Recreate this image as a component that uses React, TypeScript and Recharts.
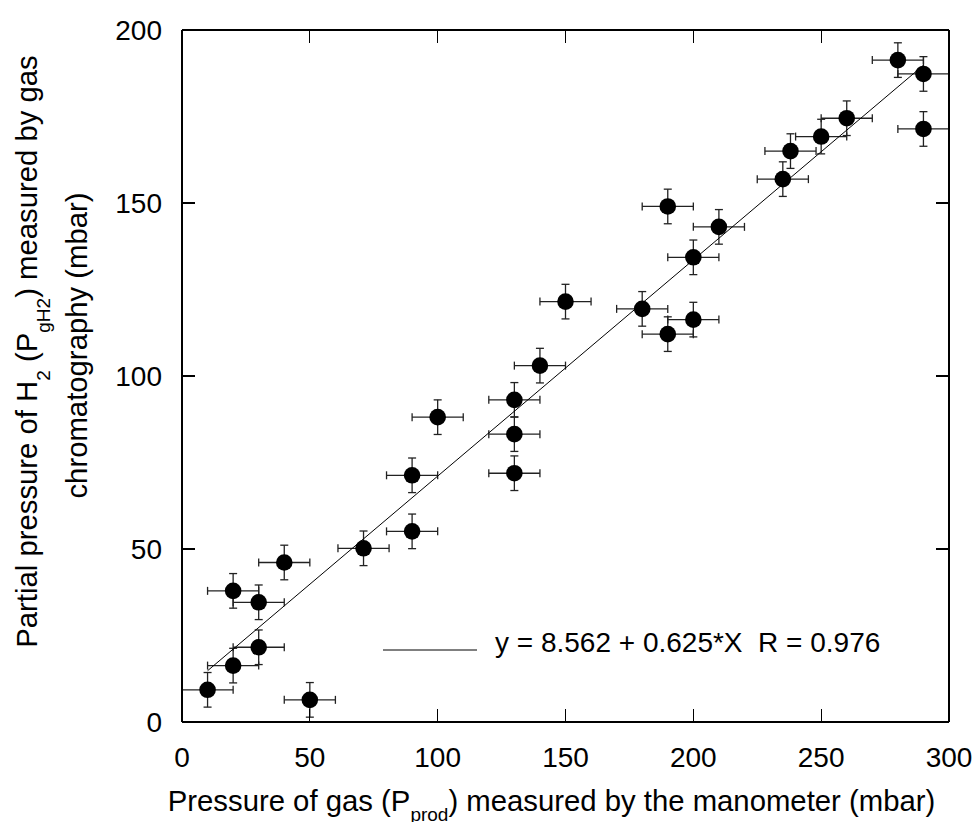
import React from 'react';
import { ScatterChart, Scatter, XAxis, YAxis, ErrorBar, Legend, ReferenceLine } from 'recharts';

// Pressure of gas measured by the manometer (mbar)
const pressureProd = [10, 20, 20, 30, 30, 40, 50, 71, 90, 90, 100, 130, 130, 130, 140, 150, 180, 190, 190, 200, 200, 210, 235, 238, 250, 260, 280, 290, 290];
// Partial pressure of H2 measured by gas chromatography (mbar)
const pressureH2 = [9.3, 16.3, 37.9, 34.6, 21.6, 46.1, 6.4, 50.2, 71.3, 55.1, 88.1, 93.1, 83.2, 71.9, 103, 121.5, 119.4, 149, 112.1, 134.3, 116.3, 143.1, 156.9, 165, 169.2, 174.5, 191.3, 187.3, 171.4];
const errProd = [10, 10, 10, 10, 10, 10, 10, 10, 10, 10, 10, 10, 10, 10, 10, 10, 10, 10, 10, 10, 10, 10, 10, 10, 10, 10, 10, 10, 10];
const errH2 = [5, 5, 5, 5, 5, 5, 5, 5, 5, 5, 5, 5, 5, 5, 5, 5, 5, 5, 5, 5, 5, 5, 5, 5, 5, 5, 5, 5, 5];

const xTicks = [0, 50, 100, 150, 200, 250, 300];
const yTicks = [0, 50, 100, 150, 200];
const xDomain = [0, 300];
const yDomain = [0, 200];

const fitIntercept = 8.562;
const fitSlope = 0.625;
const fitR = 0.976;
const fitRange = [10, 290];
const fitLabel = `y = ${fitIntercept} + ${fitSlope}*X  R = ${fitR}`;

const points = pressureProd.map((x, i) => ({ x, y: pressureH2[i], ex: errProd[i], ey: errH2[i] }));
const fitData = fitRange.map((x) => ({ x, y: fitIntercept + fitSlope * x }));

const FONT = '"Liberation Sans", Arial, Helvetica, sans-serif';
const tickStyle = { fontSize: 28, fill: '#000', fontFamily: FONT };
const TITLE = 29.3;
const SUB = 19;
const TICK_LEN = 13;
const PLOT_H = 692;
// inward tick length for the horizontal axes, expressed in y-axis units
const TICK_LEN_Y = (TICK_LEN * (yDomain[1] - yDomain[0])) / PLOT_H;

const Dot = (props: any) => <circle cx={props.cx} cy={props.cy} r={8.3} fill="#000" />;
const NoDot = () => <g />;
const NoTickLabel = () => <g />;

const XTitle = () => (
  <text x={543.5} y={803} textAnchor="middle" fontSize={TITLE} fontFamily={FONT} fill="#000">
    <tspan>Pressure of gas (P</tspan>
    <tspan fontSize={SUB} dy={10}>prod</tspan>
    <tspan dy={-10}>) measured by the manometer (mbar)</tspan>
  </text>
);

const YTitle = () => (
  <g fontFamily={FONT} fill="#000">
    <text transform="translate(28.7, 343.5) rotate(-90)" textAnchor="middle" fontSize={TITLE}>
      <tspan>Partial pressure of H</tspan>
      <tspan fontSize={SUB} dy={13}>2</tspan>
      <tspan dy={-13}>{' (P'}</tspan>
      <tspan fontSize={SUB} dy={13}>gH2</tspan>
      <tspan dy={-13}>) measured by gas</tspan>
    </text>
    <text transform="translate(79.3, 337.5) rotate(-90)" textAnchor="middle" fontSize={TITLE}>
      chromatography (mbar)
    </text>
  </g>
);

const renderLegend = (props: any) => {
  const items = (props.payload || []).filter((p: any) => p.value === fitLabel);
  return (
    <svg width={560} height={44} style={{ display: 'block' }}>
      {items.map((p: any) => (
        <g key={p.value}>
          <line x1={0} x2={94} y1={30} y2={30} stroke="#000" strokeWidth={1} />
          <text x={112} y={32} fontSize={28} fontFamily={FONT} fill="#000" xmlSpace="preserve" style={{ whiteSpace: 'pre' }}>
            {p.value}
          </text>
        </g>
      ))}
    </svg>
  );
};

const lineStyle = { stroke: '#000', strokeWidth: 1.2, shapeRendering: 'crispEdges' };

export default function App() {
  return (
    <div style={{ width: 964, height: 822, marginBottom: -8 }}>
      <ScatterChart width={964} height={822} margin={{ top: 21, right: 22, bottom: 8, left: 0 }}>
        <XAxis
          xAxisId="b"
          dataKey="x"
          type="number"
          domain={xDomain}
          ticks={xTicks}
          interval={0}
          height={100}
          tickSize={-TICK_LEN}
          tickMargin={38}
          tick={tickStyle}
          axisLine={lineStyle}
          tickLine={lineStyle}
          allowDataOverflow
          label={XTitle}
        />
        <XAxis
          xAxisId="t"
          orientation="top"
          type="number"
          domain={xDomain}
          ticks={xTicks}
          interval={0}
          height={1}
          tickSize={-TICK_LEN}
          tick={NoTickLabel}
          axisLine={lineStyle}
          tickLine={lineStyle}
          allowDataOverflow
        />
        <YAxis
          yAxisId="l"
          dataKey="y"
          type="number"
          domain={yDomain}
          ticks={yTicks}
          interval={0}
          width={174}
          tickSize={-TICK_LEN}
          tickMargin={33}
          tick={tickStyle}
          axisLine={lineStyle}
          tickLine={lineStyle}
          allowDataOverflow
          label={YTitle}
        />
        <YAxis
          yAxisId="r"
          orientation="right"
          type="number"
          domain={yDomain}
          ticks={yTicks}
          interval={0}
          width={1}
          tickSize={-TICK_LEN}
          tick={NoTickLabel}
          axisLine={lineStyle}
          tickLine={lineStyle}
          allowDataOverflow
        />
        {xTicks.map((t) => (
          <ReferenceLine
            key={`bt-${t}`}
            xAxisId="b"
            yAxisId="l"
            segment={[{ x: t, y: yDomain[0] }, { x: t, y: yDomain[0] + TICK_LEN_Y }]}
            stroke="#000"
            strokeWidth={1.2}
            shapeRendering="crispEdges"
            ifOverflow="visible"
          />
        ))}
        {xTicks.map((t) => (
          <ReferenceLine
            key={`tt-${t}`}
            xAxisId="b"
            yAxisId="l"
            segment={[{ x: t, y: yDomain[1] }, { x: t, y: yDomain[1] - TICK_LEN_Y }]}
            stroke="#000"
            strokeWidth={1.2}
            shapeRendering="crispEdges"
            ifOverflow="visible"
          />
        ))}
        <Legend
          layout="vertical"
          align="center"
          verticalAlign="middle"
          wrapperStyle={{ left: 375, top: 612, width: 560, height: 44 }}
          content={renderLegend}
        />
        <Scatter
          name={fitLabel}
          data={fitData}
          xAxisId="b"
          yAxisId="l"
          line={{ stroke: '#000', strokeWidth: 1 }}
          shape={NoDot}
          legendType="line"
          isAnimationActive={false}
        />
        <Scatter
          name="data"
          data={points}
          xAxisId="b"
          yAxisId="l"
          shape={Dot}
          legendType="none"
          isAnimationActive={false}
        >
          <ErrorBar dataKey="ex" direction="x" width={4} stroke="#222" strokeWidth={1.3} isAnimationActive={false} />
          <ErrorBar dataKey="ey" direction="y" width={4} stroke="#222" strokeWidth={1.3} isAnimationActive={false} />
        </Scatter>
      </ScatterChart>
    </div>
  );
}
